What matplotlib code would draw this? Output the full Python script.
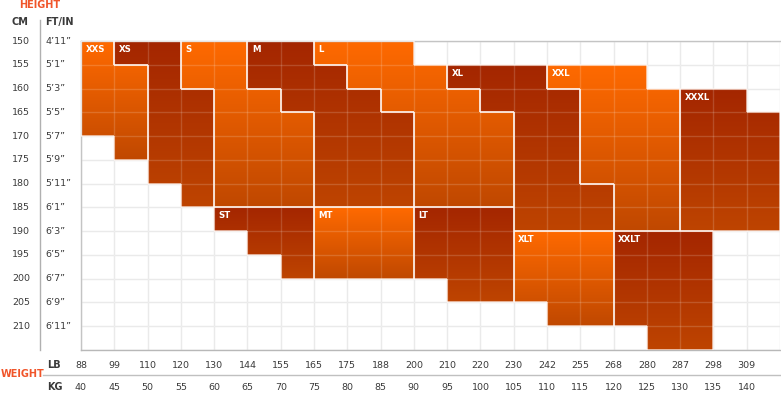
import numpy as np
import matplotlib
matplotlib.use("Agg")
import matplotlib.pyplot as plt
from matplotlib.path import Path
from matplotlib.patches import PathPatch
from matplotlib.collections import LineCollection
from matplotlib.lines import Line2D
from matplotlib.transforms import blended_transform_factory

# ---------------- data ----------------
kg_ticks = [40, 45, 50, 55, 60, 65, 70, 75, 80, 85, 90, 95, 100, 105, 110, 115, 120, 125, 130, 135, 140]
lb_ticks = ["88", "99", "110", "120", "130", "144", "155", "165", "175", "188", "200",
            "210", "220", "230", "242", "255", "268", "280", "287", "298", "309"]
cm_ticks = [150, 155, 160, 165, 170, 175, 180, 185, 190, 195, 200, 205, 210]
ftin_ticks = ["4’11”", "5’1”", "5’3”", "5’5”", "5’7”", "5’9”", "5’11”",
              "6’1”", "6’3”", "6’5”", "6’7”", "6’9”", "6’11”"]

# each size: list of (kg column start, cm from, cm to)
size_names = ["XXS", "XS", "S", "M", "L", "XL", "XXL", "XXXL",
              "ST", "MT", "LT", "XLT", "XXLT"]
size_tone = ["orange", "dark", "orange", "dark", "orange", "dark", "orange", "dark",
             "dark", "orange", "dark", "orange", "dark"]
size_xxs = [(40, 150, 170), (45, 155, 175)]
size_xs = [(45, 150, 155), (50, 150, 180), (55, 160, 185)]
size_s = [(55, 150, 160), (60, 150, 185), (65, 160, 185), (70, 165, 185)]
size_m = [(65, 150, 160), (70, 150, 165), (75, 155, 185), (80, 160, 185), (85, 165, 185)]
size_l = [(75, 150, 155), (80, 150, 160), (85, 150, 165), (90, 155, 185), (95, 160, 185), (100, 165, 185)]
size_xl = [(95, 155, 160), (100, 155, 165), (105, 155, 190), (110, 160, 190), (115, 180, 190)]
size_xxl = [(110, 155, 160), (115, 155, 180), (120, 155, 190), (125, 160, 190)]
size_xxxl = [(130, 160, 190), (135, 160, 190), (140, 165, 190)]
size_st = [(60, 185, 190), (65, 185, 195), (70, 185, 200)]
size_mt = [(75, 185, 200), (80, 185, 200), (85, 185, 200)]
size_lt = [(90, 185, 200), (95, 185, 205), (100, 185, 205)]
size_xlt = [(105, 190, 205), (110, 190, 210), (115, 190, 210)]
size_xxlt = [(120, 190, 210), (125, 190, 215), (130, 190, 215)]
size_cells = [size_xxs, size_xs, size_s, size_m, size_l, size_xl, size_xxl, size_xxxl,
              size_st, size_mt, size_lt, size_xlt, size_xxlt]

# ---------------- style ----------------
W, H = 781, 393
STEP_KG, STEP_CM = 5, 5
tones = {
    "orange": ((255, 106, 0), (192, 72, 0)),
    "dark": ((164, 38, 0), (190, 68, 0)),
}
TXT = "#3a3a3a"
ACCENT = "#f0552a"

fig = plt.figure(figsize=(W / 100, H / 100), dpi=100)
fig.patch.set_facecolor("white")
ax = fig.add_axes([81 / W, 1 - 350 / H, (780 - 81) / W, (350 - 41) / H])

xmin, xmax = kg_ticks[0], kg_ticks[-1] + STEP_KG
ymin, ymax = cm_ticks[0], cm_ticks[-1] + STEP_CM

# background grid (light gray)
for k in kg_ticks + [xmax]:
    ax.axvline(k, color="#e6e6e6", lw=1.0, zorder=0)
for c in cm_ticks + [ymax]:
    ax.axhline(c, color="#e6e6e6", lw=1.0, zorder=0)

seg_all = []
for name, tone, cols in zip(size_names, size_tone, size_cells):
    verts, codes = [], []
    cells = set()
    for k, c0, c1 in cols:
        verts += [(k, c0), (k + STEP_KG, c0), (k + STEP_KG, c1), (k, c1), (k, c0)]
        codes += [Path.MOVETO, Path.LINETO, Path.LINETO, Path.LINETO, Path.CLOSEPOLY]
        for c in range(c0, c1, STEP_CM):
            cells.add((k, c))
    path = Path(verts, codes)
    clip = PathPatch(path, facecolor="none", edgecolor="none", transform=ax.transData)
    ax.add_patch(clip)
    x0 = min(k for k, _, _ in cols)
    x1 = max(k for k, _, _ in cols) + STEP_KG
    top = min(c0 for _, c0, _ in cols)
    bot = max(c1 for _, _, c1 in cols)
    ctop, cbot = np.array(tones[tone][0]) / 255, np.array(tones[tone][1]) / 255
    t = np.linspace(0, 1, 256)[:, None]
    grad = (ctop[None, :] * (1 - t) + cbot[None, :] * t)[:, None, :]
    im = ax.imshow(grad, extent=(x0, x1, bot, top), origin="upper",
                   aspect="auto", interpolation="bilinear", zorder=1)
    im.set_clip_path(clip)
    # outline segments
    for (k, c) in cells:
        if (k, c - STEP_CM) not in cells:
            seg_all.append([(k, c), (k + STEP_KG, c)])
        if (k, c + STEP_CM) not in cells:
            seg_all.append([(k, c + STEP_CM), (k + STEP_KG, c + STEP_CM)])
        if (k - STEP_KG, c) not in cells:
            seg_all.append([(k, c), (k, c + STEP_CM)])
        if (k + STEP_KG, c) not in cells:
            seg_all.append([(k + STEP_KG, c), (k + STEP_KG, c + STEP_CM)])
    # label
    lk = min(k for k, _, _ in cols)
    lc = [c0 for k, c0, _ in cols if k == lk][0]
    ax.annotate(name, (lk, lc), xytext=(3.2, -6.2), textcoords="offset points",
                ha="left", va="center", color="white", fontsize=6.2,
                fontweight="bold", zorder=5)

# inner grid over colours (translucent white)
for k in kg_ticks[1:]:
    ax.axvline(k, color="white", alpha=0.16, lw=1.0, zorder=2)
for c in cm_ticks[1:]:
    ax.axhline(c, color="white", alpha=0.16, lw=1.0, zorder=2)

ax.add_collection(LineCollection(seg_all, colors=(1, 0.96, 0.94, 0.8), linewidths=1.1, zorder=3))

ax.set_xlim(xmin, xmax)
ax.set_ylim(ymax, ymin)
ax.set_xticks([])
ax.set_yticks([])
for s in ["top", "left", "bottom"]:
    ax.spines[s].set_color("#c4c4c4")
    ax.spines[s].set_linewidth(1.0)
ax.spines["right"].set_visible(False)
ax.spines["bottom"].set_color("#b8b8b8")

# ---------------- labels ----------------
tr_x = blended_transform_factory(ax.transData, fig.transFigure)
tr_y = blended_transform_factory(fig.transFigure, ax.transData)

for k, lb in zip(kg_ticks, lb_ticks):
    ax.text(k, 1 - 365 / H, lb, transform=tr_x, ha="center", va="center",
            fontsize=6.8, color=TXT, clip_on=False)
for k in kg_ticks:
    ax.text(k, 1 - 387 / H, str(k), transform=tr_x, ha="center", va="center",
            fontsize=6.8, color=TXT, clip_on=False)
for c, ft in zip(cm_ticks, ftin_ticks):
    ax.text(12 / W, c, str(c), transform=tr_y, ha="left", va="center",
            fontsize=6.8, color=TXT, clip_on=False)
    ax.text(45 / W, c, ft, transform=tr_y, ha="left", va="center",
            fontsize=6.8, color=TXT, clip_on=False)

fig.text(19 / W, 1 - 5 / H, "HEIGHT", ha="left", va="center", fontsize=7,
         fontweight="bold", color=ACCENT)
fig.text(11 / W, 1 - 22 / H, "CM", ha="left", va="center", fontsize=7,
         fontweight="bold", color=TXT)
fig.text(45 / W, 1 - 22 / H, "FT/IN", ha="left", va="center", fontsize=7,
         fontweight="bold", color=TXT)
fig.text(1 / W, 1 - 374 / H, "WEIGHT", ha="left", va="center", fontsize=7,
         fontweight="bold", color=ACCENT)
fig.text(47 / W, 1 - 365 / H, "LB", ha="left", va="center", fontsize=7,
         fontweight="bold", color=TXT)
fig.text(47 / W, 1 - 387 / H, "KG", ha="left", va="center", fontsize=7,
         fontweight="bold", color=TXT)

# separator lines
fig.add_artist(Line2D([40 / W, 40 / W], [1 - 20 / H, 1 - 350 / H],
                      transform=fig.transFigure, color="#b0b0b0", lw=1.0))
fig.add_artist(Line2D([43 / W, 780 / W], [1 - 375 / H, 1 - 375 / H],
                      transform=fig.transFigure, color="#c0c0c0", lw=1.0))

fig.savefig("out.png", dpi=100, facecolor="white")
